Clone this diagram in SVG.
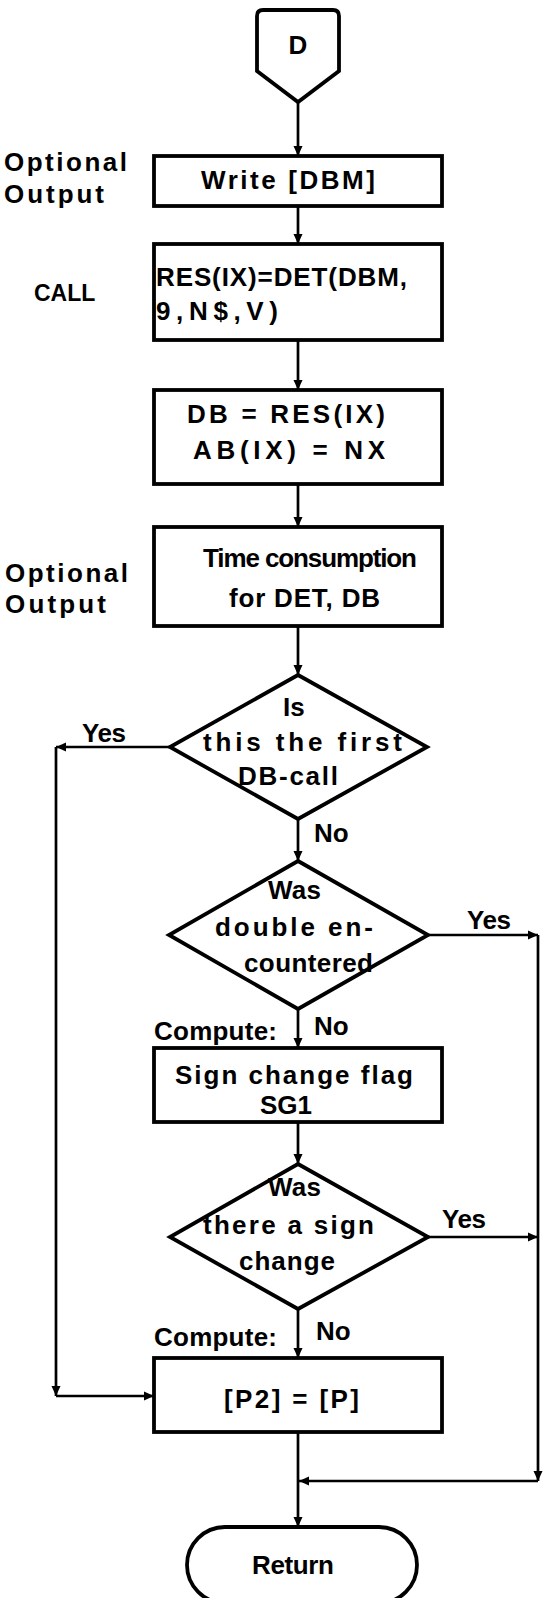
<svg xmlns="http://www.w3.org/2000/svg" width="544" height="1598" viewBox="0 0 544 1598">
<style>
.box{fill:#fff;stroke:#000;stroke-width:3.8}
.conn{fill:none;stroke:#000;stroke-width:2.7}
text{font-family:"Liberation Sans",Arial,sans-serif;font-weight:bold;font-size:26px;fill:#000}
.sm{font-size:23px}
</style>
<defs>
<marker id="ah" viewBox="0 0 10 10" refX="10" refY="5" markerWidth="10" markerHeight="10" markerUnits="userSpaceOnUse" orient="auto"><path d="M0,0.5 L10,5 L0,9.5 z" fill="#000"/></marker>
</defs>
<rect width="544" height="1598" fill="#fff"/>
<g id="connectors">
<path class="conn" d="M298,102 V156" marker-end="url(#ah)"/>
<path class="conn" d="M298,206 V244" marker-end="url(#ah)"/>
<path class="conn" d="M298,340 V390" marker-end="url(#ah)"/>
<path class="conn" d="M298,484 V527" marker-end="url(#ah)"/>
<path class="conn" d="M298,626 V675" marker-end="url(#ah)"/>
<path class="conn" d="M298,819 V861" marker-end="url(#ah)"/>
<path class="conn" d="M298,1009 V1048" marker-end="url(#ah)"/>
<path class="conn" d="M298,1122 V1164" marker-end="url(#ah)"/>
<path class="conn" d="M298,1309 V1358" marker-end="url(#ah)"/>
<path class="conn" d="M298,1432 V1527" marker-end="url(#ah)"/>
<path class="conn" d="M170,747 H56" marker-end="url(#ah)"/>
<path class="conn" d="M56,747 V1396" marker-end="url(#ah)"/>
<path class="conn" d="M56,1396 H154" marker-end="url(#ah)"/>
<path class="conn" d="M428,935 H538" marker-end="url(#ah)"/>
<path class="conn" d="M428,1237 H538" marker-end="url(#ah)"/>
<path class="conn" d="M538,935 V1481" marker-end="url(#ah)"/>
<path class="conn" d="M538,1481 H299" marker-end="url(#ah)"/>
<text x="82" y="742" textLength="44" lengthAdjust="spacing">Yes</text>
<text x="314" y="842">No</text>
<text x="467" y="929" textLength="44" lengthAdjust="spacing">Yes</text>
<text x="314" y="1035">No</text>
<text x="442" y="1228" textLength="44" lengthAdjust="spacing">Yes</text>
<text x="316" y="1340">No</text>
</g>
<g id="start">
<path class="box" d="M263,10 H333 Q339,10 339,16 V71 L298,102 L257,71 V16 Q257,10 263,10 Z"/>
<text x="298" y="54" text-anchor="middle">D</text>
</g>
<g id="label-opt1">
<text x="4" y="171" textLength="123" lengthAdjust="spacing">Optional</text>
<text x="4" y="203" textLength="100" lengthAdjust="spacing">Output</text>
</g>
<g id="write">
<rect class="box" x="154" y="156" width="288" height="50"/>
<text x="201" y="189" textLength="174" lengthAdjust="spacing">Write [DBM]</text>
</g>
<g id="label-call">
<text class="sm" x="34" y="301">CALL</text>
</g>
<g id="call">
<rect class="box" x="154" y="244" width="288" height="96"/>
<text x="156" y="286" textLength="251" lengthAdjust="spacing">RES(IX)=DET(DBM,</text>
<text x="156" y="320" textLength="122" lengthAdjust="spacing">9,N$,V)</text>
</g>
<g id="assign">
<rect class="box" x="154" y="390" width="288" height="94"/>
<text x="187" y="423" textLength="198" lengthAdjust="spacing">DB = RES(IX)</text>
<text x="193" y="459" textLength="192" lengthAdjust="spacing">AB(IX) = NX</text>
</g>
<g id="label-opt2">
<text x="5" y="582" textLength="123" lengthAdjust="spacing">Optional</text>
<text x="5" y="613" textLength="101" lengthAdjust="spacing">Output</text>
</g>
<g id="time">
<rect class="box" x="154" y="527" width="288" height="99"/>
<text x="203" y="567" textLength="214" lengthAdjust="spacing">Time consumption</text>
<text x="229" y="607" textLength="151" lengthAdjust="spacing">for DET, DB</text>
</g>
<g id="dec1">
<path class="box" d="M298,675 L427,747 L298,819 L170,747 Z"/>
<text x="283" y="716">Is</text>
<text x="203" y="751" textLength="199" lengthAdjust="spacing">this the first</text>
<text x="238" y="785" textLength="100" lengthAdjust="spacing">DB-call</text>
</g>
<g id="dec2">
<path class="box" d="M298,861 L428,935 L298,1009 L169,935 Z"/>
<text x="268" y="899" textLength="53" lengthAdjust="spacing">Was</text>
<text x="215" y="936" textLength="158" lengthAdjust="spacing">double en-</text>
<text x="244" y="972" textLength="129" lengthAdjust="spacing">countered</text>
</g>
<g id="label-compute1">
<text x="154" y="1040" textLength="123" lengthAdjust="spacing">Compute:</text>
</g>
<g id="sign">
<rect class="box" x="154" y="1048" width="288" height="74"/>
<text x="175" y="1084" textLength="238" lengthAdjust="spacing">Sign change flag</text>
<text x="260" y="1114" textLength="52" lengthAdjust="spacing">SG1</text>
</g>
<g id="dec3">
<path class="box" d="M298,1164 L428,1237 L298,1309 L170,1237 Z"/>
<text x="268" y="1196" textLength="53" lengthAdjust="spacing">Was</text>
<text x="203" y="1234" textLength="171" lengthAdjust="spacing">there a sign</text>
<text x="239" y="1270" textLength="96" lengthAdjust="spacing">change</text>
</g>
<g id="label-compute2">
<text x="154" y="1346" textLength="123" lengthAdjust="spacing">Compute:</text>
</g>
<g id="copy">
<rect class="box" x="154" y="1358" width="288" height="74"/>
<text x="224" y="1408" textLength="135" lengthAdjust="spacing">[P2] = [P]</text>
</g>
<g id="return">
<rect class="box" x="187" y="1527" width="230" height="76" rx="38" ry="38"/>
<text x="252" y="1574" textLength="82" lengthAdjust="spacing">Return</text>
</g>
</svg>
